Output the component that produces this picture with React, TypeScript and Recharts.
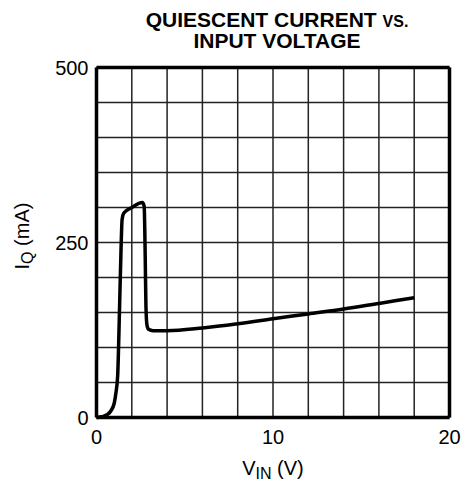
import React from 'react';
import { LineChart, Line, XAxis, YAxis, CartesianGrid, ReferenceLine } from 'recharts';

// V_IN (V) and I_Q (mA)
const vin = [0, 0.3, 0.6, 0.8, 1.0, 1.1, 1.2, 1.3, 1.4, 1.45, 1.55, 2.0, 2.6, 2.7, 2.76, 2.8, 2.86, 2.95, 3.2, 4, 6, 8, 10, 12, 14, 16, 18];
const iq = [0, 1, 4, 9, 20, 35, 60, 150, 250, 283, 292, 300, 307, 302, 230, 160, 132, 126, 124, 124, 128, 134, 141, 148, 155, 163, 171];

const xTicks = [0, 2, 4, 6, 8, 10, 12, 14, 16, 18, 20];
const yTicks = [0, 50, 100, 150, 200, 250, 300, 350, 400, 450, 500];
const xLabels = [0, 10, 20];
const yLabels = [0, 250, 500];

const data = vin.map((v, i) => ({ vin: v, iq: iq[i] }));

const FONT = '"Liberation Sans", Arial, sans-serif';

const XLabel = (props: any) => {
  const { viewBox } = props;
  const cx = viewBox.x + viewBox.width / 2;
  return (
    <text x={cx} y={475} textAnchor="middle" fontFamily={FONT} fontSize={20} fill="#000">
      <tspan>V</tspan>
      <tspan fontSize={16} dy={4}>IN</tspan>
      <tspan dy={-4}> (V)</tspan>
    </text>
  );
};

const YLabel = () => (
  <text x={0} y={0} transform="translate(29,236) rotate(-90)" textAnchor="middle" fontFamily={FONT} fontSize={20} fill="#000">
    <tspan>I</tspan>
    <tspan fontSize={16} dy={4}>Q</tspan>
    <tspan dy={-4}> (mA)</tspan>
  </text>
);

export default function App() {
  return (
    <div style={{ position: 'absolute', left: 0, top: 0, width: 461, height: 482, background: '#fff' }}>
      <div style={{ position: 'absolute', left: 96, width: 362, top: 10, textAlign: 'center', fontFamily: FONT, fontWeight: 'bold', fontSize: 21, lineHeight: '19px', color: '#000' }}>
        QUIESCENT CURRENT <span style={{ fontSize: 16 }}>VS.</span>
        <br />
        INPUT VOLTAGE
      </div>
      <LineChart
        width={461}
        height={482}
        data={data}
        margin={{ top: 67.5, right: 11.5, bottom: 34.5, left: 0 }}
      >
        <CartesianGrid stroke="#222" strokeWidth={1.5} />
        <XAxis
          dataKey="vin"
          type="number"
          domain={[0, 20]}
          ticks={xTicks}
          tickFormatter={(v) => (xLabels.includes(v) ? String(v) : '')}
          axisLine={false}
          tickLine={false}
          tickSize={0}
          tickMargin={12}
          height={30}
          interval={0}
          tick={{ fill: '#000', fontSize: 20, fontFamily: FONT }}
          label={<XLabel />}
        />
        <YAxis
          type="number"
          domain={[0, 500]}
          ticks={yTicks}
          tickFormatter={(v) => (yLabels.includes(v) ? String(v) : '')}
          axisLine={false}
          tickLine={false}
          tickSize={0}
          tickMargin={8}
          width={96.5}
          interval={0}
          tick={{ fill: '#000', fontSize: 20, fontFamily: FONT }}
          label={<YLabel />}
        />
        <ReferenceLine x={0} stroke="#000" strokeWidth={3.5} />
        <ReferenceLine x={20} stroke="#000" strokeWidth={3.5} />
        <ReferenceLine y={0} stroke="#000" strokeWidth={3.5} />
        <ReferenceLine y={500} stroke="#000" strokeWidth={3.5} />
        <Line
          type="monotone"
          dataKey="iq"
          stroke="#000"
          strokeWidth={3.5}
          dot={false}
          isAnimationActive={false}
        />
      </LineChart>
    </div>
  );
}
